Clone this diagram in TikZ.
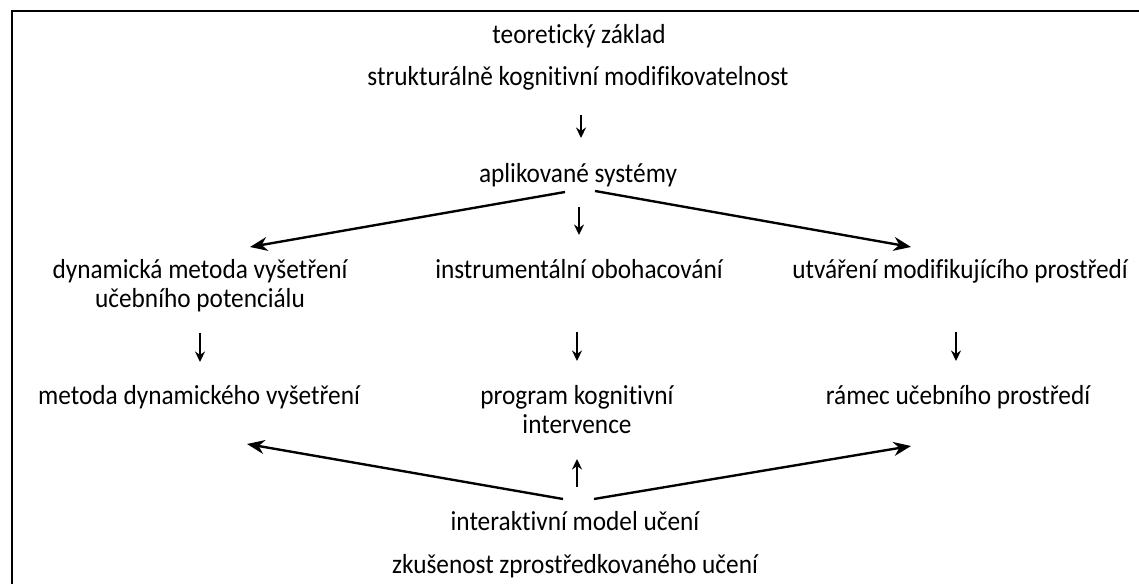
\documentclass[tikz,border=0pt]{standalone}
\usepackage{fontspec}
\setmainfont{Carlito}[FakeStretch=0.92, Ligatures=NoCommon]
\usetikzlibrary{arrows.meta,calc}

\tikzset{
  lbl/.style={anchor=base, inner sep=0pt, align=center},
  thinarrow/.style={line width=0.55pt, -{Stealth[length=4.2pt,width=4pt]}},
  thickarrow/.style={line width=0.95pt, -{Stealth[length=7pt,width=5.6pt]}}
}

\begin{document}
\begin{tikzpicture}[x=0.4pt,y=-0.4pt, every node/.style={font=\fontsize{11}{11.6}\selectfont}]
  \useasboundingbox (0,0) rectangle (1139,584);
  \draw[line width=0.8pt] (12,584) -- (12,11) -- (1139,11);
  % texts
  \node[lbl] (teo) at (579,44) {teoretický základ};
  \node[lbl] (struk) at (578,86) {strukturálně kognitivní modifikovatelnost};
  \node[lbl] (apl) at (578,183) {aplikované systémy};
  \node[lbl] (dyn) at (200,308) {dynamická metoda vyšetření\\učebního potenciálu};
  \node[lbl] (instr) at (579,279) {instrumentální obohacování};
  \node[lbl] (utv) at (960,279) {utváření modifikujícího prostředí};
  \node[lbl] (metoda) at (199,405) {metoda dynamického vyšetření};
  \node[lbl] (program) at (577,434) {program kognitivní\\intervence};
  \node[lbl] (ramec) at (958,405) {rámec učebního prostředí};
  \node[lbl] (inter) at (575,531) {interaktivní model učení};
  \node[lbl] (zkus) at (575,574) {zkušenost zprostředkovaného učení};
  % arrows down
  \draw[thinarrow] ([shift={(3,29)}]struk.base) -- ([shift={(3,-45)}]apl.base);
  \draw[thinarrow] ([shift={(1,24)}]apl.base) -- ([shift={(0,-44)}]instr.base);
  \draw[thickarrow] ([shift={(-13,9)}]apl.base) -- ([shift={(50,-61)}]dyn.base);
  \draw[thickarrow] ([shift={(17,8)}]apl.base) -- ([shift={(-49,-32)}]utv.base);
  \draw[thinarrow] ([shift={(0,25)}]dyn.base) -- ([shift={(1,-43)}]metoda.base);
  \draw[thinarrow] ([shift={(-2,53)}]instr.base) -- ([shift={(0,-73)}]program.base);
  \draw[thinarrow] ([shift={(-4,53)}]utv.base) -- ([shift={(-2,-44)}]ramec.base);
  % arrows up
  \draw[thickarrow] ([shift={(-12,-32)}]inter.base) -- ([shift={(48,39)}]metoda.base);
  \draw[thinarrow] ([shift={(2,-44)}]inter.base) -- ([shift={(0,25)}]program.base);
  \draw[thickarrow] ([shift={(19,-32)}]inter.base) -- ([shift={(-47,41)}]ramec.base);
\end{tikzpicture}
\end{document}
